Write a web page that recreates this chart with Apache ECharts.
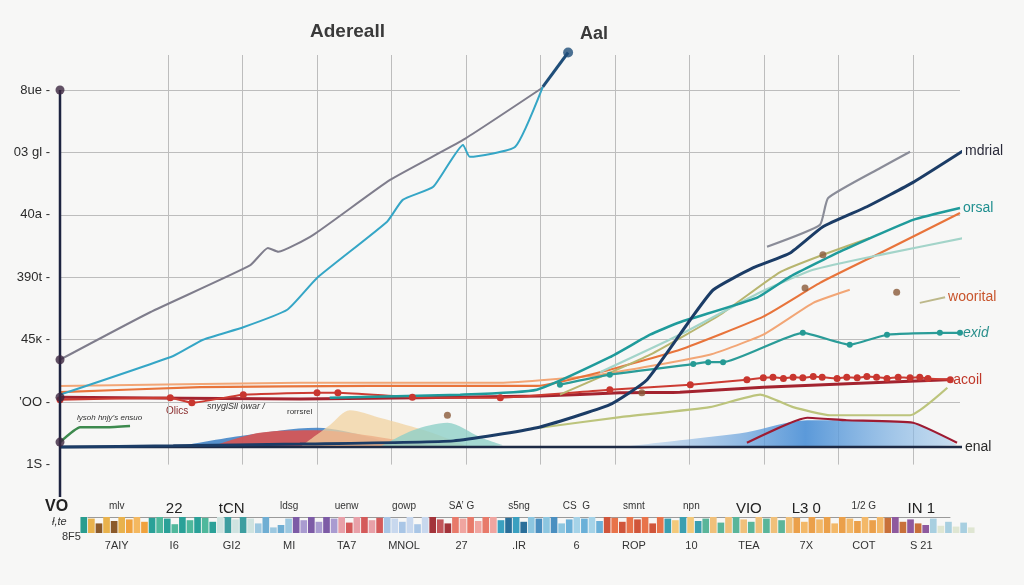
<!DOCTYPE html>
<html>
<head>
<meta charset="utf-8">
<title>Adereall</title>
<script src="https://cdn.jsdelivr.net/npm/echarts@6/dist/echarts.min.js"></script>
<style>
  html, body { margin: 0; padding: 0; background: #f7f7f6; }
  #main { width: 1024px; height: 585px; }
</style>
</head>
<body>
<div id="main"></div>
<script>
// y tick labels, value 0 (bottom) .. 6 (top)
const yLabels = ['1S', '\u2019OO', '45\u0138', '390t', '40a', '03 gl', '8ue']

// lines, [x, y]
const grayLine = [[-0.45, 1.68], [0.76, 2.44], [2.10, 3.19], [2.34, 3.47], [2.48, 3.41], [2.95, 3.68], [3.98, 4.56], [4.96, 5.20], [6.03, 6.04]]
const tealBlue = [[-0.45, 1.12], [1.07, 1.74], [1.47, 2.00], [2.01, 2.20], [2.60, 2.48], [3.00, 2.99], [3.94, 3.89], [4.15, 4.24], [4.56, 4.45], [4.96, 5.12], [5.05, 4.93], [5.66, 5.09], [6.03, 6.05]]
const navyPeak = [[6.03, 6.05], [6.37, 6.60]]
const navyMain = [[-0.45, 0.28], [1.07, 0.30], [2.77, 0.33], [4.83, 0.38], [5.95, 0.59], [6.93, 0.96], [7.43, 1.36], [8.01, 2.32], [8.32, 2.80], [8.85, 3.15], [9.35, 3.39], [9.79, 3.81], [10.38, 4.13], [11.0, 4.52], [11.73, 5.07]]
const grayRight = [[9.04, 3.49], [9.75, 3.84], [9.86, 4.27], [10.56, 4.75], [10.96, 5.01]]
const tealOrsal = [[3.17, 1.07], [4.92, 1.12], [5.95, 1.20], [6.93, 1.72], [7.47, 2.08], [7.87, 2.28], [8.90, 2.67], [9.35, 3.01], [10.02, 3.41], [11.0, 3.92], [11.63, 4.11]]
const orangeLine = [[-0.45, 1.16], [1.43, 1.24], [3.71, 1.26], [5.95, 1.26], [6.93, 1.52], [7.87, 1.84], [8.99, 2.37], [9.75, 2.91], [10.56, 3.39], [11.63, 4.03]]
const orangePale = [[-0.45, 1.26], [2.77, 1.31], [5.46, 1.31], [6.80, 1.44], [8.27, 1.76], [8.99, 2.08], [9.66, 2.59], [10.15, 2.80]]
const seafoam = [[6.80, 1.48], [7.87, 2.08], [8.95, 2.76], [9.66, 3.12], [10.56, 3.36], [11.73, 3.64]]
const khakiUp = [[6.26, 1.12], [7.47, 1.76], [8.41, 2.40], [9.21, 3.08], [9.79, 3.36], [10.42, 3.63]]
const tealExid = [[6.26, 1.28], [6.93, 1.44], [8.05, 1.61], [8.25, 1.64], [8.45, 1.64], [9.52, 2.11], [10.15, 1.92], [10.65, 2.08], [11.36, 2.11], [11.63, 2.11]]
const redDots = [[-0.45, 1.04], [1.03, 1.07], [1.32, 0.99], [2.01, 1.12], [3.00, 1.15], [3.28, 1.15], [4.28, 1.08], [5.46, 1.07], [6.93, 1.20], [8.01, 1.28], [8.77, 1.36],
  [8.99, 1.39], [9.12, 1.40], [9.26, 1.38], [9.39, 1.40], [9.52, 1.39], [9.66, 1.41], [9.78, 1.40], [9.98, 1.38], [10.11, 1.40], [10.25, 1.39],
  [10.38, 1.41], [10.51, 1.40], [10.65, 1.38], [10.80, 1.40], [10.96, 1.39], [11.09, 1.40], [11.20, 1.38], [11.50, 1.36]]
const darkRed = [[-0.45, 1.08], [2.77, 1.05], [5.99, 1.10], [7.07, 1.15], [7.87, 1.16], [8.99, 1.24], [11.46, 1.36]]
const oliveLow = [[5.99, 0.59], [7.07, 0.76], [8.27, 0.92], [8.95, 1.12], [9.39, 0.92], [9.89, 0.79], [10.96, 0.79], [11.46, 1.23]]
const redRidge = [[8.77, 0.35], [9.58, 0.75], [10.11, 0.71], [11.0, 0.67], [11.59, 0.35]]
const greenShort = [[-0.45, 0.36], [-0.18, 0.60], [0.18, 0.60], [0.49, 0.62]]
const woorital = [[11.09, 2.59], [11.43, 2.68]]

// filled shapes along the base
const blueRight = [[7.07, 0.28], [7.87, 0.39], [8.77, 0.52], [9.58, 0.71], [10.11, 0.71], [11.0, 0.67], [11.59, 0.31]]
const blueLeft = [[1.07, 0.28], [1.97, 0.46], [3.00, 0.59], [3.71, 0.44], [4.12, 0.28]]
const redLeft = [[1.56, 0.28], [2.23, 0.51], [3.00, 0.55], [3.84, 0.44], [4.38, 0.33], [5.05, 0.28]]
const beigeLeft = [[2.77, 0.28], [3.17, 0.63], [3.44, 0.87], [3.84, 0.75], [4.52, 0.52], [5.05, 0.28]]
const tealLeft = [[3.84, 0.28], [4.29, 0.55], [4.75, 0.67], [5.19, 0.44], [5.50, 0.31]]

// loose dots
const axisDots = [[-0.45, 6.0], [-0.45, 1.68], [-0.45, 1.08], [-0.45, 0.36]]
const looseDots = [[9.55, 2.83], [10.78, 2.76], [9.79, 3.36], [7.36, 1.15], [4.75, 0.79]]
const baseY = 0.28
const axisTop = 6.0
const axisBottom = -0.52
const xLeft = -0.45
const xRight = 11.73

// bottom strip
const topLabels = ['mlv', '22', 'tCN', 'ldsg', 'uenw', 'gowp', 'SA\u2019 G', 's5ng', 'CS  G', 'smnt', 'npn', 'VIO', 'L3 0', '1/2 G', 'IN 1']
const bottomLabels = ['7AIY', 'I6', 'GI2', 'MI', 'TA7', 'MNOL', '27', '.IR', '6', 'ROP', '10', 'TEA', '7X', 'COT', 'S 21']
const stripHeights = [
  1.0, 0.9, 0.6, 1.0, 0.75, 1.0, 0.85, 1.0, 0.7, 0.95,
  1.0, 0.9, 0.55, 1.0, 0.8, 1.0, 0.95, 0.7, 1.0, 1.0,
  0.85, 1.0, 0.9, 0.6, 1.0, 0.35, 0.5, 0.9, 1.0, 0.8,
  1.0, 0.7, 1.0, 0.9, 1.0, 0.65, 1.0, 1.0, 0.8, 0.95,
  1.0, 0.9, 0.7, 1.0, 0.55, 1.0, 1.0, 0.85, 0.6, 1.0,
  0.9, 1.0, 0.75, 1.0, 1.0, 0.8, 0.95, 1.0, 0.7, 1.0,
  0.9, 1.0, 1.0, 0.6, 0.85, 1.0, 0.9, 1.0, 0.75, 1.0,
  0.95, 0.7, 1.0, 0.85, 1.0, 0.6, 1.0, 0.9, 0.8, 1.0,
  1.0, 0.75, 0.9, 1.0, 0.65, 1.0, 1.0, 0.85, 0.7, 1.0,
  0.9, 1.0, 0.8, 1.0, 0.95, 0.7, 1.0, 0.85, 1.0, 0.6,
  1.0, 0.9, 0.75, 1.0, 0.8, 1.0, 0.95, 1.0, 0.7, 0.85,
  0.6, 0.5, 0.9, 0.45, 0.7, 0.4, 0.65, 0.35
]

// strip colour runs: [count, colour a, colour b]
const stripRuns = [
  [1, '#2a9d8f', '#2a9d8f'], [5, '#e9b24c', '#8b5a2b'], [3, '#f0a23e', '#f4b860'],
  [9, '#2aa198', '#4fb89c'], [5, '#cfe3e0', '#3d9ea0'], [5, '#9cc8e0', '#6faed3'],
  [6, '#7d5ba6', '#a99bd0'], [6, '#e8a0a8', '#d45a5a'], [6, '#a9c6e6', '#c8d8ee'],
  [3, '#a3333a', '#c2555a'], [6, '#e87a6a', '#f0a5a0'], [4, '#3aa0c0', '#2a6f9a'],
  [5, '#8cc6e0', '#4a8fc0'], [5, '#6ab0d8', '#a5d3e8'], [8, '#d0553a', '#e8734a'],
  [5, '#3a9fb0', '#f3c97a'], [12, '#5ab59a', '#f0c07a'], [12, '#eba04a', '#f3b868'],
  [6, '#c8703a', '#8e5a9e'], [6, '#a8cfe0', '#dfe6d2']
]
const bigLabels = ['22', 'tCN', 'VIO', 'L3 0', 'IN 1']

function stripColor (i) {
  let n = 0
  for (const r of stripRuns) {
    if (i < n + r[0]) return (i - n) % 2 ? r[2] : r[1]
    n += r[0]
  }
  return '#ccc'
}

function line (data, color, width, extra) {
  return Object.assign({
    type: 'line',
    data: data,
    symbol: 'none',
    clip: false,
    smooth: 0.15,
    z: 3,
    lineStyle: { color: color, width: width }
  }, extra || {})
}

function area (data, color, opacity) {
  return {
    type: 'line',
    data: data,
    symbol: 'none',
    smooth: 0.3,
    clip: false,
    z: 1,
    lineStyle: { width: 0 },
    areaStyle: { color: color, opacity: opacity, origin: baseY }
  }
}

function endLab (text, color, extra) {
  return Object.assign({ show: true, formatter: text, color: color, fontSize: 14, distance: 3 }, extra || {})
}

const chart = echarts.init(document.getElementById('main'))
const grayC = '#bdbdbd'

chart.setOption({
  animation: false,
  backgroundColor: '#f7f7f6',
  textStyle: { fontFamily: 'Liberation Sans, Arial, sans-serif' },
  title: [
    { text: 'Adereall', left: 305, top: 17, textStyle: { fontSize: 19, fontWeight: 'bold', color: '#3a3a3a' } },
    { text: 'Aal', left: 575, top: 20, textStyle: { fontSize: 18, fontWeight: 'bold', color: '#3a3a3a' } }
  ],
  grid: [
    { left: 60, right: 64, top: 55, bottom: 120.4 },
    { left: 88, right: 74, top: 497, height: 20 },
    { left: 80, right: 49, top: 517, height: 16 }
  ],
  xAxis: [
    {
      type: 'value', min: xLeft, max: 11.63, minInterval: 1, maxInterval: 1, splitNumber: 12,
      axisLine: { show: false }, axisTick: { show: false }, axisLabel: { show: false },
      splitLine: {
        lineStyle: {
          width: 1,
          color: ['rgba(0,0,0,0)', 'rgba(0,0,0,0)', grayC, grayC, grayC, grayC, grayC, grayC, grayC, grayC, grayC, grayC, grayC, 'rgba(0,0,0,0)']
        }
      }
    },
    {
      gridIndex: 1, type: 'category', position: 'top', data: topLabels,
      axisLine: { lineStyle: { color: '#9a9a9a' } },
      axisTick: { inside: true, length: 18, lineStyle: { color: '#555' } },
      axisLabel: {
        inside: true, margin: 4, color: '#222', interval: 0,
        formatter: v => bigLabels.includes(v) ? '{b|' + v + '}' : '{a|' + v + '}',
        rich: {
          a: { fontSize: 10, color: '#333' },
          b: { fontSize: 15, color: '#222' }
        }
      }
    },
    {
      gridIndex: 1, type: 'category', position: 'bottom', offset: 20, data: bottomLabels,
      axisLine: { show: false }, axisTick: { show: false },
      axisLabel: { margin: 3, fontSize: 11, color: '#333', interval: 0 }
    },
    {
      gridIndex: 2, type: 'category', data: stripHeights.map((_, i) => i), show: false
    }
  ],
  yAxis: [
    {
      type: 'value', min: 0, max: 6.56, interval: 1,
      axisLine: { show: false },
      axisTick: { show: false },
      axisLabel: {
        margin: 10, fontSize: 13, color: '#2b2b2b',
        formatter: v => (Math.abs(v - Math.round(v)) < 1e-6 ? (yLabels[Math.round(v)] || '') + ' -' : '')
      },
      splitLine: {
        lineStyle: { color: ['rgba(0,0,0,0)', grayC, grayC, grayC, grayC, grayC, grayC, 'rgba(0,0,0,0)'] }
      }
    },
    { gridIndex: 1, show: false },
    { gridIndex: 2, show: false, min: 0, max: 1 }
  ],
  series: [
    area(blueLeft, '#3a7fc4', 0.85),
    area(redLeft, '#e0504a', 0.85),
    area(beigeLeft, '#f2d3a0', 0.75),
    area(tealLeft, '#8fcfc8', 0.8),
    area(blueRight, new echarts.graphic.LinearGradient(0, 0, 1, 0, [
      { offset: 0, color: 'rgba(150,190,230,0.35)' },
      { offset: 0.55, color: '#4a8fd6' },
      { offset: 1, color: 'rgba(160,200,235,0.6)' }
    ]), 0.9),
    // axis strokes: the left rule and the base rule
    line([[xLeft, axisTop], [xLeft, axisBottom]], '#1d2340', 2.5, { smooth: false, z: 4 }),
    line([[xLeft, baseY], [xRight, baseY]], '#1d2a45', 2.5, { smooth: false, z: 2, endLabel: endLab('enal', '#2b2b2b') }),
    line(greenShort, '#3d8a4e', 2.5),
    line(orangePale, '#f2a676', 2),
    line(darkRed, '#a3232f', 3),
    line(orangeLine, '#e8743b', 2.2),
    line(redDots, '#cc3b32', 2, {
      symbol: 'circle', symbolSize: 7, showSymbol: true, itemStyle: { color: '#c8362f' },
      endLabel: endLab('acoil', '#c0392b')
    }),
    line(oliveLow, '#bcc47c', 2.2),
    line(redRidge, '#9e1b32', 2.2),
    line(khakiUp, '#b7b56f', 2),
    line(seafoam, '#a3d4c9', 2.2),
    line(tealExid, '#2a9c98', 2.2, {
      symbol: 'circle', symbolSize: 6, showSymbol: true, itemStyle: { color: '#259a94' },
      endLabel: endLab('exid', '#2a8f8c', { fontStyle: 'italic' })
    }),
    line(tealOrsal, '#1f9b9b', 2.5, { endLabel: endLab('orsal', '#1f8f8f') }),
    line(grayLine, '#7f7d8c', 2),
    line(tealBlue, '#35a6c6', 2),
    line(grayRight, '#8a8c98', 2.2),
    line(navyMain, '#1b3c66', 3, { endLabel: endLab('mdrial', '#2a2a3a') }),
    line(navyPeak, '#1f4e79', 3),
    line(woorital, '#bdb88a', 2, { endLabel: endLab('woorital', '#c8552d') }),
    {
      type: 'scatter', data: [navyPeak[1]], symbolSize: 10, z: 5, clip: false,
      itemStyle: { color: '#1f4e79' }
    },
    {
      type: 'scatter', data: looseDots, symbolSize: 7, z: 4, clip: false,
      itemStyle: { color: '#8a5a3a' }
    },
    {
      type: 'scatter', data: axisDots, symbolSize: 9, z: 6, clip: false,
      itemStyle: { color: '#3b2640' }
    },
    {
      type: 'bar', xAxisIndex: 3, yAxisIndex: 2, data: stripHeights,
      barCategoryGap: '12%',
      itemStyle: { color: p => stripColor(p.dataIndex) }
    }
  ],
  graphic: [
    { type: 'text', left: 77, top: 414, style: { text: 'lysoh hnjy\u2019s ensuo', fontSize: 8, fontStyle: 'italic', fill: '#333' } },
    { type: 'text', left: 166, top: 406, style: { text: 'Olics', fontSize: 10, fill: '#8a2b2b' } },
    { type: 'text', left: 207, top: 402, style: { text: 'snyglSll owar /', fontSize: 9, fontStyle: 'italic', fill: '#333' } },
    { type: 'text', left: 287, top: 408, style: { text: 'rorrsrel', fontSize: 8, fill: '#333' } },
    { type: 'text', left: 45, top: 499, style: { text: 'VO', fontSize: 16, fontWeight: 'bold', fill: '#222' } },
    { type: 'text', left: 52, top: 516, style: { text: '\u0142,te', fontSize: 11, fontStyle: 'italic', fill: '#333' } },
    { type: 'text', left: 62, top: 531, style: { text: '8F5', fontSize: 11, fill: '#333' } }
  ]
})
</script>
</body>
</html>
